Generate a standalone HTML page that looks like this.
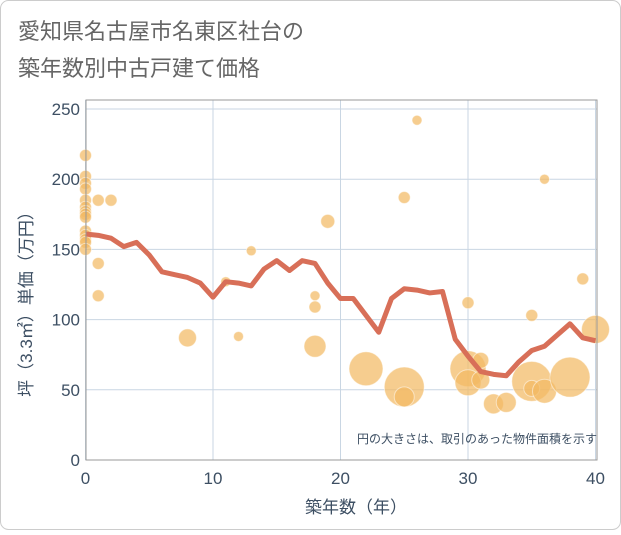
<!DOCTYPE html>
<html><head><meta charset="utf-8"><style>
body{margin:0;background:#fff;}
svg text{font-family:"Liberation Sans","Noto Sans CJK JP",sans-serif;}
</style></head><body>
<svg width="621" height="530" xmlns="http://www.w3.org/2000/svg">
<rect x="0.5" y="0.5" width="620" height="529" rx="8" fill="#fff" stroke="#ccc"/>
<text x="18" y="39" font-size="22" fill="#666">愛知県名古屋市名東区社台の</text>
<text x="18" y="76" font-size="22" fill="#666">築年数別中古戸建て価格</text>
<g id="grid"></g>
<g id="bubbles"></g>
<g id="lineg"></g>
<rect x="86" y="100" width="511" height="360" fill="none" stroke="#999"/>
<g id="ticks"></g>
<text x="597" y="443" font-size="12" fill="#3d4f63" text-anchor="end">円の大きさは、取引のあった物件面積を示す</text>
<text x="356" y="513" font-size="17" fill="#3d4f63" text-anchor="middle">築年数（年）</text>
<text transform="translate(32,300) rotate(-90)" font-size="17" fill="#3d4f63" text-anchor="middle">坪（3.3㎡）単価（万円）</text>
</svg>
<script>
const xTicks=[0,10,20,30,40];
const yTicks=[0,50,100,150,200,250];
const lineYears=[0,1,2,3,4,5,6,7,8,9,10,11,12,13,14,15,16,17,18,19,20,21,22,23,24,25,26,27,28,29,30,31,32,33,34,35,36,37,38,39,40];
const lineValues=[161,160,158,152,155,146,134,132,130,126,116,127,126,124,136,142,135,142,140,126,115,115,103,91,115,122,121,119,120,86,74,63,61,60,70,78,81,89,97,87,85];
const bubbleYears=[0,0,0,0,0,0,0,0,0,0,0,0,0,0,1,1,1,2,8,11,12,13,18,18,18,19,22,25,25,25,26,30,30,30,31,31,32,33,35,35,35,36,36,38,39,40];
const bubbleValues=[217,202,197,193,185,180,177,175,173,163,160,157,155,150,185,140,117,185,87,127,88,149,117,109,81,170,65,52,45,187,242,112,65,55,71,57,40,41,103,56,51,200,49,59,129,93];
const bubbleSizes=[6,6,6,6,6,6,6,6,6,6,6,6,6,6,6,6,6,6,9,5,5,5,5,6,11,7,17,20,10,6,5,6,18,13,8,9,10,10,6,20,8,5,12,20,6,14];
const NS="http://www.w3.org/2000/svg";
const X=v=>85.5+v*12.75, Y=v=>460-v*1.404;
const grid=document.getElementById('grid'),ticks=document.getElementById('ticks');
xTicks.forEach(t=>{
 const l=document.createElementNS(NS,'line');
 
 
 l.setAttribute('x1',X(t));l.setAttribute('x2',X(t));l.setAttribute('y1',100);l.setAttribute('y2',460);
 l.setAttribute('stroke','#c9d6e3');grid.appendChild(l);
 const tx=document.createElementNS(NS,'text');
 
 
 tx.setAttribute('x',X(t));tx.setAttribute('y',484);tx.setAttribute('text-anchor','middle');
 tx.setAttribute('font-size','17');tx.setAttribute('fill','#3d4f63');tx.textContent=t;ticks.appendChild(tx);
});
yTicks.forEach(t=>{
 const l=document.createElementNS(NS,'line');
 
 
 l.setAttribute('x1',86);l.setAttribute('x2',597);l.setAttribute('y1',Y(t));l.setAttribute('y2',Y(t));
 l.setAttribute('stroke','#c9d6e3');grid.appendChild(l);
 const tx=document.createElementNS(NS,'text');
 
 
 tx.setAttribute('x',80);tx.setAttribute('y',Y(t)+6);tx.setAttribute('text-anchor','end');
 tx.setAttribute('font-size','17');tx.setAttribute('fill','#3d4f63');tx.textContent=t;ticks.appendChild(tx);
});
const bg=document.getElementById('bubbles');
bubbleYears.forEach((yr,i)=>{
 const c=document.createElementNS(NS,'circle');
 
 
 c.setAttribute('cx',X(yr));c.setAttribute('cy',Y(bubbleValues[i]));c.setAttribute('r',bubbleSizes[i]);
 c.setAttribute('fill','rgba(242,186,100,0.72)');c.setAttribute('stroke','rgba(255,255,255,0.5)');c.setAttribute('stroke-width','1');
 bg.appendChild(c);
});
const p=document.createElementNS(NS,'polyline');


p.setAttribute('points',lineYears.map((yr,i)=>X(yr)+','+Y(lineValues[i])).join(' '));
p.setAttribute('fill','none');p.setAttribute('stroke','#d86f58');p.setAttribute('stroke-width','5');p.setAttribute('stroke-linejoin','round');
document.getElementById('lineg').appendChild(p);
</script>
</body></html>
